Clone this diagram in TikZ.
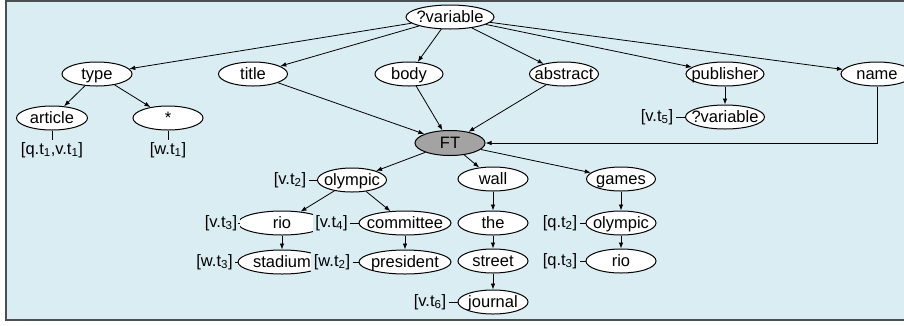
\documentclass[tikz,border=0pt]{standalone}
\usepackage{fontspec}
\setmainfont{Liberation Sans}
\usetikzlibrary{shapes.geometric,arrows.meta}
\definecolor{panelbg}{HTML}{DAEDF3}
\definecolor{panelbd}{HTML}{4A4F52}
\definecolor{ftgray}{HTML}{A3A3A3}
\newcommand\ctxt[1]{\makebox[0pt]{\raisebox{-0.36em}[0pt][0pt]{#1}}}
\begin{document}
\begin{tikzpicture}[x=1pt,y=-1pt,
  font=\fontsize{16.5}{19}\selectfont,
  ell/.style={ellipse, draw=black, line width=1pt, fill=white, inner sep=0pt, minimum height=24pt, minimum width=#1},
  ell/.default=70pt,
  lab/.style={inner sep=2.5pt, fill=panelbg},
  arr/.style={-{Latex[length=6pt,width=4.5pt]}, line width=0.8pt},
  lnk/.style={line width=0.8pt}]
\useasboundingbox (0,0) rectangle (904,325);
\clip (0,0) rectangle (904,325);
\draw[fill=panelbg, draw=panelbd, line width=1.6pt] (6,0.8) rectangle (915,320);

% top level
\node[ell=88pt] (var1) at (450,17) {\ctxt{?variable}};
\node[ell=70pt] (type) at (97,74) {\ctxt{type}};
\node[ell=69pt] (title) at (253,74) {\ctxt{title}};
\node[ell=68pt] (body) at (409,74) {\ctxt{body}};
\node[ell=69pt] (abstract) at (564,74) {\ctxt{abstract}};
\node[ell=78pt] (publisher) at (725,74) {\ctxt{publisher}};
\node[ell=72pt] (name) at (877,74) {\ctxt{name}};
\node[ell=71pt] (article) at (52,118) {\ctxt{article}};
\node[ell=70pt] (star) at (168,118) {\ctxt{*}};
\node[ell=79pt] (var2) at (725,117) {\ctxt{?variable}};
\node[ell=70pt, minimum height=25pt, fill=ftgray] (FT) at (450,143) {\ctxt{FT}};

% lower part
\node[ell=69pt] (olympicA) at (352,180) {\ctxt{olympic}};
\node[ell=88pt] (rioA) at (282,223) {\ctxt{rio}};
\node[ell=92pt] (committee) at (405,223) {\ctxt{committee}};
\node[ell=88pt] (stadium) at (282,262) {\ctxt{stadium}};
\node[ell=92pt] (president) at (405,262) {\ctxt{president}};
\node[ell=70pt] (wall) at (493,179) {\ctxt{wall}};
\node[ell=70pt] (the) at (493,223) {\ctxt{the}};
\node[ell=70pt] (street) at (493,261) {\ctxt{street}};
\node[ell=70pt] (journal) at (493,302) {\ctxt{journal}};
\node[ell=69pt] (games) at (621,179) {\ctxt{games}};
\node[ell=70pt] (olympicB) at (621,223) {\ctxt{olympic}};
\node[ell=70pt] (rioB) at (621,261) {\ctxt{rio}};

% labels
\node[lab] (lqv1) at (52,150) {[q.t\textsubscript{1},v.t\textsubscript{1}]};
\node[lab] (lw1) at (168,150) {[w.t\textsubscript{1}]};
\node[lab] (lv5) at (657,117) {[v.t\textsubscript{5}]};
\node[lab] (lv2) at (290,180) {[v.t\textsubscript{2}]};
\node[lab] (lv3) at (221,223) {[v.t\textsubscript{3}]};
\node[lab] (lv4) at (331.5,223) {[v.t\textsubscript{4}]};
\node[lab] (lw3) at (214.5,262) {[w.t\textsubscript{3}]};
\node[lab] (lw2) at (332,262) {[w.t\textsubscript{2}]};
\node[lab] (lv6) at (430,302) {[v.t\textsubscript{6}]};
\node[lab] (lq2) at (560,223) {[q.t\textsubscript{2}]};
\node[lab] (lq3) at (560,261) {[q.t\textsubscript{3}]};

% arrows
\foreach \t in {type,title,body,abstract,publisher,name}
  \draw[arr] (var1) -- (\t);
\draw[arr] (type) -- (article);
\draw[arr] (type) -- (star);
\draw[arr] (title) -- (FT);
\draw[arr] (body) -- (FT);
\draw[arr] (abstract) -- (FT);
\draw[arr] (publisher) -- (var2);
\draw[arr] (name.south) |- (FT.east);
\draw[arr] (FT) -- (olympicA);
\draw[arr] (FT) -- (wall);
\draw[arr] (FT) -- (games);
\draw[arr] (olympicA) -- (rioA);
\draw[arr] (olympicA) -- (committee);
\draw[arr] (rioA) -- (stadium);
\draw[arr] (committee) -- (president);
\draw[arr] (wall) -- (the);
\draw[arr] (the) -- (street);
\draw[arr] (street) -- (journal);
\draw[arr] (games) -- (olympicB);
\draw[arr] (olympicB) -- (rioB);

% label links
\draw[lnk] (article.south) -- (lqv1.north);
\draw[lnk] (star.south) -- (lw1.north);
\draw[lnk] (lv5.east) -- (var2.west);
\draw[lnk] (lv2.east) -- (olympicA.west);
\draw[lnk] (lv3.east) -- (rioA.west);
\draw[lnk] (lv4.east) -- (committee.west);
\draw[lnk] (lw3.east) -- (stadium.west);
\draw[lnk] (lw2.east) -- (president.west);
\draw[lnk] (lv6.east) -- (journal.west);
\draw[lnk] (lq2.east) -- (olympicB.west);
\draw[lnk] (lq3.east) -- (rioB.west);
\end{tikzpicture}
\end{document}
